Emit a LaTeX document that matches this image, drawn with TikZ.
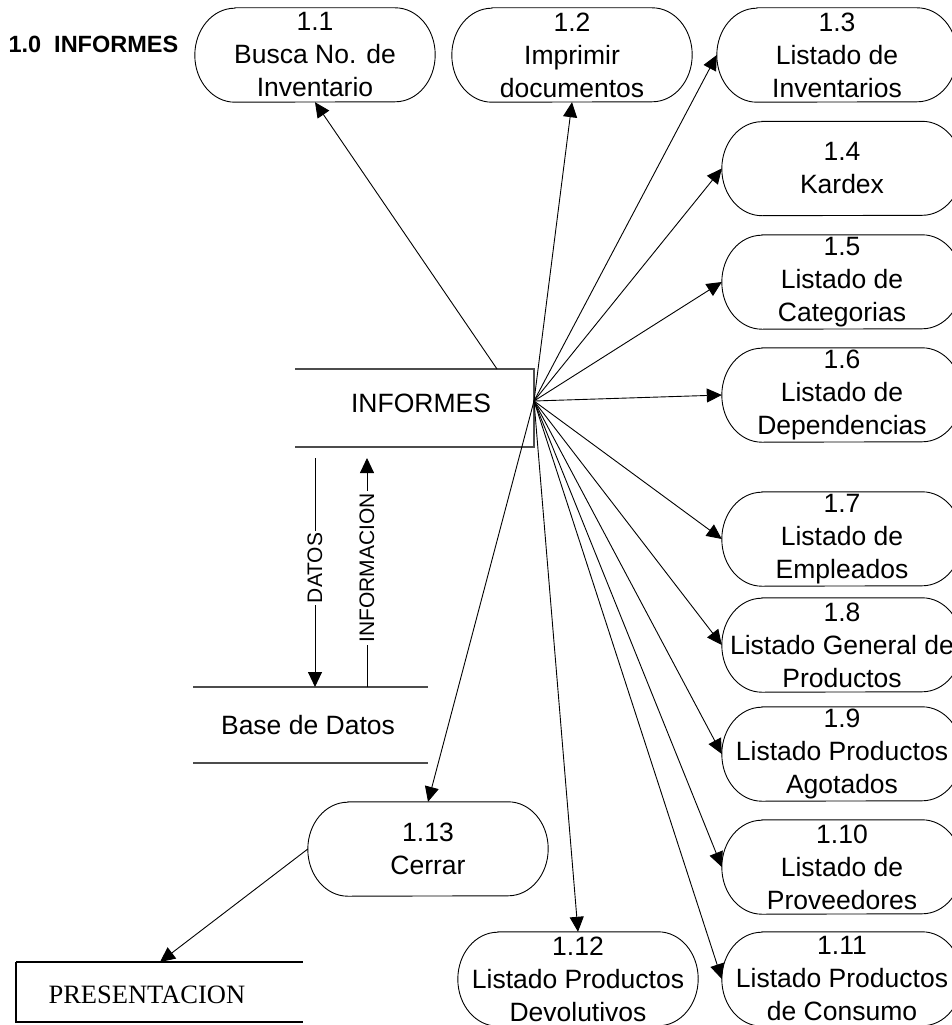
\documentclass[tikz,border=0pt]{standalone}
\usepackage{fontspec}
\setmainfont{Liberation Sans}
\newfontfamily\serifface{Liberation Serif}
\usetikzlibrary{arrows.meta}

\begin{document}
\begin{tikzpicture}[x=1pt,y=1pt,
  proc/.style={minimum width=240, minimum height=94, inner sep=0pt, align=center,
    font=\fontsize{26.5}{33}\selectfont},
  outline/.style={draw=black, line width=0.9},
  flow/.style={draw=black, line width=0.9, -{Triangle[length=15pt,width=14pt]}},
  store/.style={draw=black!70, line width=1.4},
  lbl/.style={fill=white, inner sep=2pt, font=\fontsize{21}{24}\selectfont}
]
\useasboundingbox (0,0) rectangle (952,-1025);
\clip (0,0) rectangle (952,-1025);

% title
\node[font=\bfseries\fontsize{23.5}{26}\selectfont, anchor=west] (title) at (5,-44) {1.0\ \ INFORMES};

% processes
\node[proc] (n1)  at (315,-55)  {1.1\\Busca No. de\\Inventario};
\node[proc] (n2)  at (572,-55)  {1.2\\Imprimir\\documentos};
\node[proc] (n3)  at (837,-55)  {1.3\\Listado de\\Inventarios};
\node[proc] (n4)  at (842,-168.5) {1.4\\Kardex};
\node[proc] (n5)  at (842,-282) {1.5\\Listado de\\Categorias};
\node[proc] (n6)  at (842,-395) {1.6\\Listado de\\Dependencias};
\node[proc] (n7)  at (842,-539) {1.7\\Listado de\\Empleados};
\node[proc] (n8)  at (842,-645) {1.8\\Listado General de\\Productos};
\node[proc] (n9)  at (842,-754) {1.9\\Listado Productos\\Agotados};
\node[proc] (n10) at (842,-867) {1.10\\Listado de\\Proveedores};
\node[proc] (n11) at (842,-979) {1.11\\Listado Productos\\de Consumo};
\node[proc] (n12) at (578,-979) {1.12\\Listado Productos\\Devolutivos};
\node[proc] (n13) at (428,-849) {1.13\\Cerrar};

% stadium outlines of the processes
\foreach \n in {n1,n2,n3,n4,n5,n6,n7,n8,n9,n10,n11,n12,n13}
  \draw[outline] ([xshift=40]\n.north west) -- ([xshift=-40]\n.north east)
    arc[start angle=90, end angle=-90, x radius=40, y radius=47]
    -- ([xshift=40]\n.south west)
    arc[start angle=270, end angle=90, x radius=40, y radius=47] -- cycle;

% INFORMES store (open on the left)
\node[font=\fontsize{26.5}{30}\selectfont] (inf) at (421,-403) {INFORMES};
\draw[store] (295,-369) -- (534,-369) -- (534,-447) -- (295,-447);
\coordinate (hub) at (534,-401);
\coordinate (infup) at (497,-369);

% Base de Datos store
\node[font=\fontsize{26.5}{30}\selectfont] (db) at (308,-725) {Base de Datos};
\draw[store] (193,-687) -- (428,-687);
\draw[store] (193,-763) -- (428,-763);

% PRESENTACION entity
\node[font=\serifface\fontsize{26.5}{30}\selectfont, anchor=west] (pres) at (45,-995) {PRESENTACION};
\draw[line width=2] (16,-962) -- (303,-962);
\draw[line width=1.4] (16,-962) -- (16,-1022) -- (303,-1022);
\coordinate (presin) at (160,-962);

% data flows between INFORMES and the database
\coordinate (dtop) at (315,-458);
\coordinate (dbot) at (315,-687);
\coordinate (itop) at (367,-458);
\coordinate (ibot) at (367,-687);
\draw[flow] (dtop) -- node[lbl, rotate=90, pos=0.48] {DATOS} (dbot);
\draw[flow] (ibot) -- node[lbl, rotate=90, pos=0.52] {INFORMACION} (itop);

% flows out of INFORMES
\draw[flow] (infup) -- (n1.south);
\draw[flow] (hub) -- (n2.south);
\foreach \n in {n3,n4,n5,n6,n7,n8,n9,n10,n11}
  \draw[flow] (hub) -- (\n.west);
\draw[flow] (hub) -- (n12.north);
\draw[flow] (hub) -- (n13.north);
\draw[flow] (n13.west) -- (presin);
\end{tikzpicture}
\end{document}
